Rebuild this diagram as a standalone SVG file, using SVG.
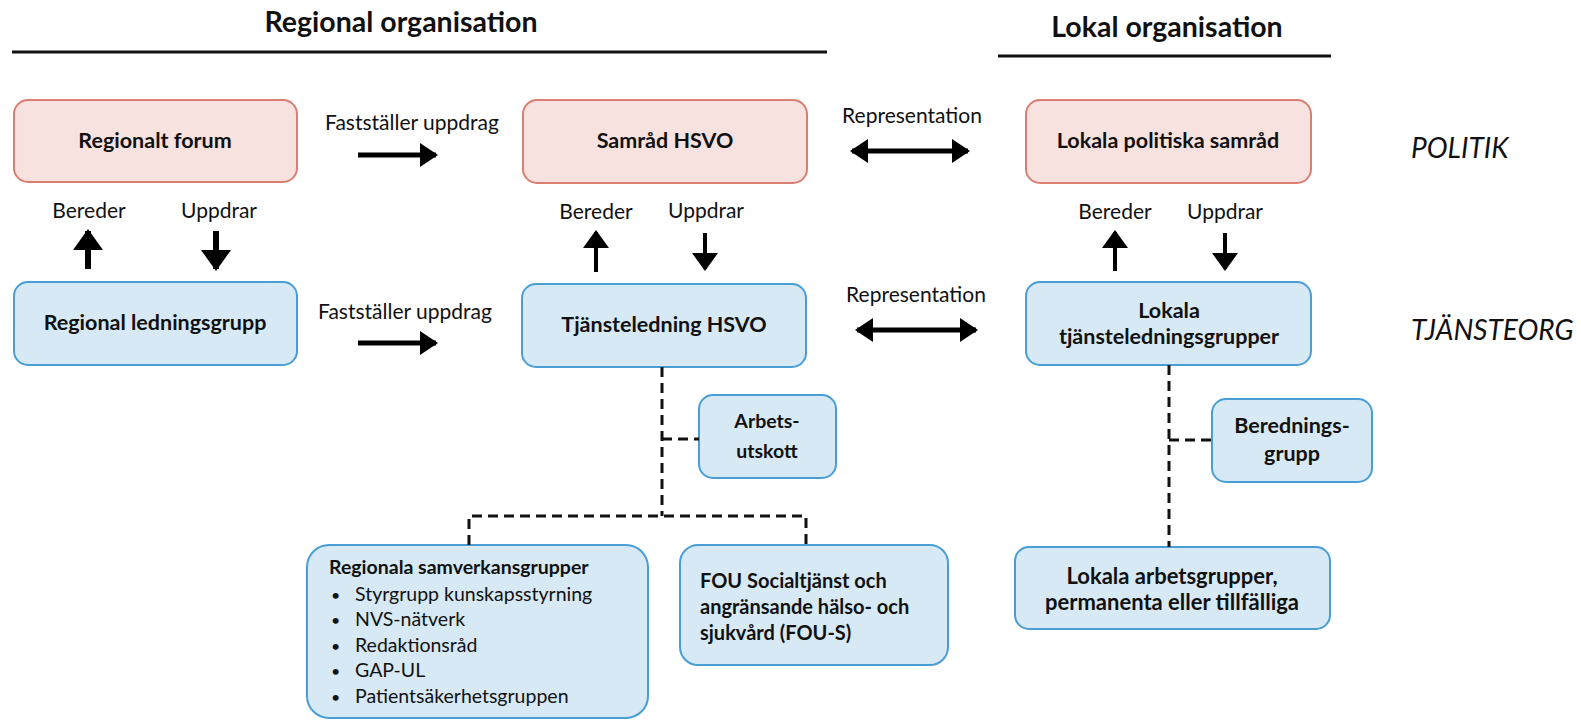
<svg xmlns="http://www.w3.org/2000/svg" width="1581" height="720" viewBox="0 0 1581 720">
<style>
text{font-family:Lato,"Liberation Sans",sans-serif;fill:#111;}
.h{font-size:28.5px;font-weight:bold;text-anchor:middle;}
.n{font-size:21.5px;font-weight:bold;text-anchor:middle;}
.l{font-size:21px;text-anchor:middle;}
.side{font-size:28px;font-style:italic;}
.b{font-size:19.5px;}
.pink{fill:#f8e2df;stroke:#d97f72;stroke-width:2;}
.blue{fill:#d7e9f5;stroke:#4a9ed6;stroke-width:2;}
.rule{stroke:#111;stroke-width:3;}
.dash{fill:none;stroke:#111;stroke-width:3;stroke-dasharray:10,6;}
.arr{stroke:#000;stroke-width:5;fill:none;}
.arr1{stroke:#000;stroke-width:6;fill:none;}
.arr2{stroke:#000;stroke-width:4;fill:none;}
</style>
<defs>
<marker id="ah" markerUnits="userSpaceOnUse" markerWidth="18" markerHeight="24" refX="16" refY="12" orient="auto-start-reverse"><path d="M0,0 L18,12 L0,24 z" fill="#000"/></marker>
<marker id="ah2" markerUnits="userSpaceOnUse" markerWidth="18" markerHeight="26" refX="16" refY="13" orient="auto-start-reverse"><path d="M0,0 L18,13 L0,26 z" fill="#000"/></marker>
<marker id="ah3" markerUnits="userSpaceOnUse" markerWidth="21" markerHeight="30" refX="19" refY="15" orient="auto"><path d="M0,0 L21,15 L0,30 z" fill="#000"/></marker>
</defs>
<rect width="1581" height="720" fill="#fff"/>

<g id="headers">
<text class="h" x="401" y="32">Regional organisation</text>
<line class="rule" x1="12" y1="52" x2="827" y2="52"/>
<text class="h" x="1167" y="37">Lokal organisation</text>
<line class="rule" x1="998" y1="56" x2="1331" y2="56"/>
<text class="side" x="1411" y="158">POLITIK</text>
<text class="side" x="1411" y="340">TJÄNSTEORG</text>
</g>

<g id="regionalt-forum"><rect class="pink" x="14" y="100" width="283" height="82" rx="14"/><text class="n" x="155" y="148">Regionalt forum</text></g>
<g id="samrad-hsvo"><rect class="pink" x="523" y="100" width="284" height="83" rx="14"/><text class="n" x="665" y="148">Samråd HSVO</text></g>
<g id="lokala-politiska"><rect class="pink" x="1026" y="100" width="285" height="83" rx="14"/><text class="n" x="1168" y="148">Lokala politiska samråd</text></g>

<g id="regional-ledningsgrupp"><rect class="blue" x="14" y="282" width="283" height="83" rx="14"/><text class="n" x="155" y="330">Regional ledningsgrupp</text></g>
<g id="tjansteledning-hsvo"><rect class="blue" x="522" y="284" width="284" height="83" rx="14"/><text class="n" x="664" y="332">Tjänsteledning HSVO</text></g>
<g id="lokala-tjl"><rect class="blue" x="1026" y="282" width="285" height="83" rx="14"/><text class="n" x="1169" y="318">Lokala</text><text class="n" x="1169" y="344">tjänsteledningsgrupper</text></g>

<g id="arbetsutskott"><rect class="blue" x="699" y="395" width="137" height="83" rx="14"/><text class="n" x="767" y="428" style="font-size:19.5px">Arbets-</text><text class="n" x="767" y="458" style="font-size:19.5px">utskott</text></g>
<g id="beredningsgrupp"><rect class="blue" x="1212" y="399" width="160" height="83" rx="14"/><text class="n" x="1292" y="433">Berednings-</text><text class="n" x="1292" y="461">grupp</text></g>

<g id="regionala-samverkansgrupper"><rect class="blue" x="307" y="545" width="341" height="173" rx="22"/>
<text class="b" x="329" y="574" font-weight="bold" style="font-size:19.5px">Regionala samverkansgrupper</text>
<text class="b" x="331" y="601" style="font-size:16px">•</text><text class="b" x="355" y="601">Styrgrupp kunskapsstyrning</text>
<text class="b" x="331" y="626" style="font-size:16px">•</text><text class="b" x="355" y="626">NVS-nätverk</text>
<text class="b" x="331" y="652" style="font-size:16px">•</text><text class="b" x="355" y="652">Redaktionsråd</text>
<text class="b" x="331" y="677" style="font-size:16px">•</text><text class="b" x="355" y="677">GAP-UL</text>
<text class="b" x="331" y="703" style="font-size:16px">•</text><text class="b" x="355" y="703">Patientsäkerhetsgruppen</text>
</g>
<g id="fou-s"><rect class="blue" x="680" y="545" width="268" height="120" rx="18"/>
<text class="b" x="700" y="588" font-weight="bold" style="font-size:20px">FOU Socialtjänst och</text>
<text class="b" x="700" y="614" font-weight="bold" style="font-size:20px">angränsande hälso- och</text>
<text class="b" x="700" y="640" font-weight="bold" style="font-size:20px">sjukvård (FOU-S)</text>
</g>
<g id="lokala-arbetsgrupper"><rect class="blue" x="1015" y="547" width="315" height="82" rx="14"/><text class="n" x="1172" y="584" style="font-size:22px">Lokala arbetsgrupper,</text><text class="n" x="1172" y="610" style="font-size:22px">permanenta eller tillfälliga</text></g>

<g id="connectors">
<text class="l" x="412" y="130">Fastställer uppdrag</text>
<line class="arr" x1="358" y1="155" x2="436" y2="155" marker-end="url(#ah)"/>
<text class="l" x="405" y="319">Fastställer uppdrag</text>
<line class="arr" x1="358" y1="343" x2="436" y2="343" marker-end="url(#ah)"/>
<text class="l" x="912" y="123">Representation</text>
<line class="arr" x1="852" y1="151" x2="968" y2="151" marker-start="url(#ah)" marker-end="url(#ah)"/>
<text class="l" x="916" y="302">Representation</text>
<line class="arr" x1="857" y1="330" x2="976" y2="330" marker-start="url(#ah)" marker-end="url(#ah)"/>

<text class="l" x="89" y="218">Bereder</text>
<line class="arr1" x1="88" y1="269" x2="88" y2="231" marker-end="url(#ah3)"/>
<text class="l" x="219" y="218">Uppdrar</text>
<line class="arr1" x1="216" y1="231" x2="216" y2="269" marker-end="url(#ah3)"/>

<text class="l" x="596" y="219">Bereder</text>
<line class="arr2" x1="596" y1="272" x2="596" y2="232" marker-end="url(#ah2)"/>
<text class="l" x="706" y="218">Uppdrar</text>
<line class="arr2" x1="705" y1="233" x2="705" y2="269" marker-end="url(#ah2)"/>

<text class="l" x="1115" y="219">Bereder</text>
<line class="arr2" x1="1115" y1="271" x2="1115" y2="232" marker-end="url(#ah2)"/>
<text class="l" x="1225" y="219">Uppdrar</text>
<line class="arr2" x1="1225" y1="233" x2="1225" y2="269" marker-end="url(#ah2)"/>

<path class="dash" d="M662,367 V516"/>
<path class="dash" d="M662,439 H699"/>
<path class="dash" d="M469,545 V516 H806 V545"/>
<path class="dash" d="M1169,365 V547"/>
<path class="dash" d="M1169,440 H1212"/>
</g>
</svg>
